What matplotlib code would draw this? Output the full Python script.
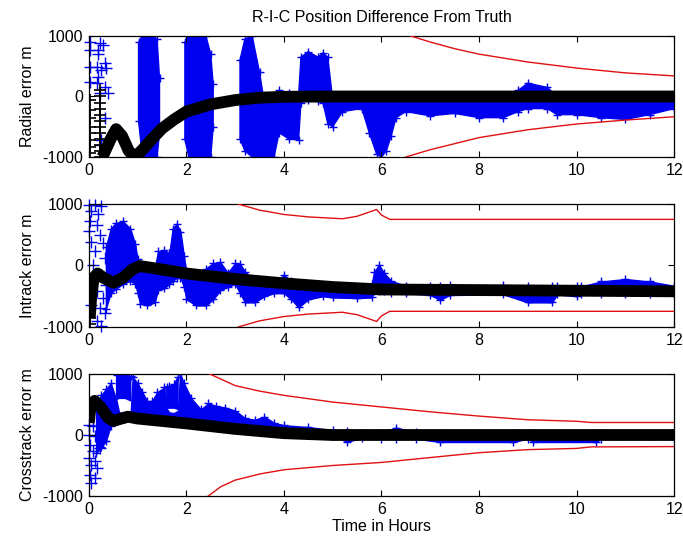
import numpy as np
import matplotlib
matplotlib.use("Agg")
import matplotlib.pyplot as plt

plt.rcParams['font.family'] = ['Liberation Sans', 'DejaVu Sans']
plt.rcParams['axes.unicode_minus'] = False

nan = np.nan

# ---------------- Radial ----------------
rad_blue_t = [1.00, 1.02, 1.10, 1.30, 1.40, 1.45, 1.47,
              1.97, 2.05, 2.40, 2.50, 2.55, 2.57,
              3.08, 3.10, 3.20, 3.35, 3.50, 3.60, 3.80, 3.90, 4.10, 4.30, 4.35, 4.50,
              4.70, 4.80, 4.90, 5.00, 5.20, 5.60, 5.75, 5.90, 6.00, 6.10, 6.20, 6.30,
              6.50, 7.00, 7.50, 8.00, 8.50, 8.80, 9.00, 9.40, 9.60, 10.0, 10.5, 11.0,
              11.5, 12.0]
rad_blue_lo = [nan, -400, -1000, -1000, -1000, -600, nan,
               -700, -1000, -1000, -1000, -500, nan,
               nan, -700, -900, -1000, -1000, -1000, -1000, -600, -700, -720, -100, -50,
               -80, -100, -450, -500, -250, -200, -600, -950, -1000, -900, -650, -350,
               -250, -320, -280, -350, -350, -250, -200, -200, -300, -300, -350, -380,
               -300, -200]
rad_blue_hi = [nan, 900, 1000, 1000, 950, 300, nan,
               900, 1000, 1000, 700, 200, nan,
               nan, 600, 950, 1000, 400, -100, -50, 100, 50, 0, 650, 740,
               650, 720, 650, -50, 0, 0, 0, 0, 0, 0, 0, 0,
               0, 0, 0, 0, 0, 100, 220, 150, 0, 0, 0, 0,
               0, 0]
rad_gap_lo = [nan] * len(rad_blue_t)
rad_gap_hi = [nan] * len(rad_blue_t)
rad_scatter_t = [0.03, 0.03, 0.03, 0.03, 0.23, 0.29, 0.19, 0.33, 0.26, 0.36, 0.19,
                 0.33, 0.40, 0.23, 0.33, 0.26, 0.23, 0.19, 0.16, 0.16]
rad_scatter_v = [905, 770, 490, 245, 880, 850, 770, 550, 440, 465, 330,
                 160, 50, 50, -360, -720, -800, 710, 490, 220]
rad_est_t = [0.28, 0.45, 0.56, 0.68, 0.82, 0.95, 1.10, 1.30, 1.50, 1.75, 2.0,
             2.5, 3.0, 3.5, 4.0, 5.0, 8.0, 12.0]
rad_est_v = [-1000, -700, -540, -650, -900, -1000, -880, -700, -530, -380, -250,
             -130, -60, -20, -5, 0, 0, 0]
rad_est_early_t = [0.03, 0.03, 0.03, 0.03, 0.03, 0.03, 0.03, 0.03,
                   0.23, 0.23, 0.23, 0.23, 0.23, 0.23, 0.23, 0.23, 0.23, 0.23, 0.23, 0.23]
rad_est_early_v = [-60, -220, -360, -500, -600, -720, -830, -935,
                   100, 0, -100, -200, -300, -400, -500, -600, -700, -800, -900, -1000]
rad_up_t = [6.60, 7.0, 7.5, 8.0, 9.0, 10.0, 11.0, 12.0]
rad_up_v = [1000, 900, 790, 700, 570, 470, 390, 340]
rad_dn_t = [6.50, 7.0, 8.0, 9.0, 10.0, 11.0, 12.0]
rad_dn_v = [-1000, -880, -680, -550, -455, -390, -335]

# ---------------- Intrack ----------------
int_blue_t = [0.35, 0.45, 0.55, 0.70, 0.85, 0.95, 1.00, 1.05, 1.20, 1.35, 1.42, 1.55,
              1.65, 1.72, 1.80, 1.88, 1.95, 2.00, 2.20, 2.40, 2.55, 2.70, 2.85, 3.00,
              3.10, 3.20, 3.40, 3.60, 3.80, 4.00, 4.15, 4.30, 4.50, 4.80, 5.00, 5.50,
              5.80, 5.85, 5.95, 6.05, 6.20, 6.50, 7.00, 7.20, 7.40, 8.50, 9.00, 9.50,
              9.60, 10.0, 10.1, 10.5, 11.0, 11.5, 12.0]
int_blue_lo = [-700, -450, -380, -300, -250, -300, -450, -620, -650, -600, -400, -370,
               -300, -250, -200, -200, -350, -550, -650, -650, -550, -400, -350, -300,
               -450, -600, -600, -500, -450, -450, -550, -680, -550, -500, -520, -530,
               -520, -420, -420, -420, -440, -450, -480, -560, -480, -470, -600, -600,
               -470, -500, -470, -470, -470, -470, -470]
int_blue_hi = [300, 600, 690, 720, 600, 350, 100, -20, -60, -50, 230, 250,
               200, 600, 680, 550, 150, -100, -150, -50, 40, 50, -120, 40,
               30, -100, -250, -300, -320, -150, -250, -300, -300, -330, -340, -360,
               -300, -100, 10, -120, -250, -330, -330, -330, -320, -320, -340, -340,
               -330, -340, -340, -260, -220, -260, -330]
int_gap_lo = [nan] * len(int_blue_t)
int_gap_hi = [nan] * len(int_blue_t)
int_scatter_t = [0.00, 0.12, 0.26, 0.05, 0.19, 0.02, 0.16, 0.00, 0.23, 0.05, 0.29, 0.12,
                 0.33, 0.09, 0.26, 0.36, 0.16, 0.29, 0.05, 0.23, 0.33, 0.16, 0.26]
int_scatter_v = [990, 990, 960, 880, 830, 720, 660, 555, 500, 390, 365, 230,
                 120, 15, -150, -310, -420, -530, -640, -690, -770, -910, -990]
int_est_t = [0.02, 0.05, 0.10, 0.18, 0.30, 0.50, 0.70, 0.90, 1.05, 1.30, 2.0, 3.0,
             4.0, 5.0, 6.0, 8.0, 10.0, 12.0]
int_est_v = [-850, -500, -200, -130, -200, -280, -200, -60, -10, -40, -130, -220,
             -290, -350, -390, -400, -410, -420]
int_est_early_t = [0.02, 0.02, 0.02, 0.02, 0.02]
int_est_early_v = [-550, -650, -750, -850, -950]
int_up_t = [3.06, 3.5, 4.0, 4.5, 5.2, 5.5, 5.9, 6.0, 6.17, 12.0]
int_up_v = [1000, 900, 830, 790, 760, 800, 910, 820, 750, 750]
int_dn_t = [3.06, 3.5, 4.0, 4.5, 5.2, 5.5, 5.9, 6.0, 6.17, 12.0]
int_dn_v = [-1000, -900, -830, -790, -760, -800, -910, -820, -745, -745]

# ---------------- Crosstrack ----------------
crs_blue_t = [0.15, 0.25, 0.35, 0.45, 0.57, 0.62, 0.75, 0.86, 0.90, 1.00, 1.10, 1.20,
              1.30, 1.40, 1.55, 1.60, 1.65, 1.75, 1.83, 1.87, 1.95, 2.10, 2.30, 2.45,
              2.60, 2.80, 3.00, 3.20, 3.40, 3.60, 3.80, 4.00, 4.50, 5.00, 5.30, 5.60,
              6.00, 6.30, 6.70, 7.20, 8.70, 9.00, 9.10, 10.4, 10.5, 12.0]
crs_blue_lo = [-300, -200, -100, 150, 240, 250, 270, 280, 280, 270, 260, 250,
               240, 230, 220, 215, 212, 205, 200, 200, 190, 180, 170, 160,
               150, 130, 110, 90, 70, 60, 40, 20, 0, -20, -110, -50,
               -60, -60, -60, -115, -115, -60, -115, -115, -60, -60]
crs_blue_hi = [450, 650, 750, 850, 980, 1000, 1000, 960, 950, 850, 700, 550,
               560, 700, 780, 790, 800, 830, 950, 1000, 850, 600, 420, 520,
               480, 450, 400, 280, 250, 300, 200, 160, 130, 80, 60, 40,
               40, 120, 50, 40, 40, 40, 40, 40, 40, 40]
crs_gap_lo = [nan, nan, nan, nan, 560, 370, 360, 380, nan, nan, nan, nan,
              nan, nan, nan, 430, 370, 360, 400] + [nan] * 27
crs_gap_hi = [nan, nan, nan, nan, 580, 600, 600, 560, nan, nan, nan, nan,
              nan, nan, nan, 440, 440, 440, 420] + [nan] * 27
crs_scatter_t = [0.00, 0.09, 0.00, 0.12, 0.02, 0.09, 0.00, 0.12, 0.05, 0.16, 0.02, 0.12,
                 0.05, 0.23, 0.29, 0.33]
crs_scatter_v = [170, 140, 5, -20, -160, -270, -380, -430, -490, -540, -650, -700,
                 -790, -210, -100, 115]
crs_est_t = [0.00, 0.03, 0.12, 0.25, 0.40, 0.50, 0.80, 1.0, 2.0, 3.0, 4.0, 5.0, 12.0]
crs_est_v = [200, 420, 560, 450, 280, 230, 300, 270, 190, 100, 30, 0, 0]
crs_up_t = [2.48, 3.0, 3.5, 4.0, 5.0, 6.0, 7.0, 8.0, 9.0, 10.0, 10.3, 12.0]
crs_up_v = [1000, 810, 720, 650, 540, 460, 380, 310, 250, 225, 205, 205]
crs_dn_t = [2.45, 2.7, 3.0, 3.5, 4.0, 5.0, 6.0, 7.0, 8.0, 9.0, 10.0, 10.3, 12.0]
crs_dn_v = [-1000, -850, -740, -640, -570, -500, -450, -370, -290, -240, -220, -195, -190]

BLUE = '#0000f0'
RED = '#e01010'

fig = plt.figure(figsize=(6.83, 5.46), dpi=100)
boxes = [[0.130, 0.7125, 0.857, 0.2216],
         [0.130, 0.4011, 0.857, 0.2253],
         [0.130, 0.0916, 0.857, 0.2234]]


def panel(box, bt, blo, bhi, glo, ghi, st, sv, et, ev, eet, eev, ut, uv, dt, dv, ylabel):
    ax = fig.add_axes(box)
    bt = np.array(bt, dtype=float)
    blo = np.array(blo, dtype=float)
    bhi = np.array(bhi, dtype=float)
    glo = np.array(glo, dtype=float)
    ghi = np.array(ghi, dtype=float)
    has_gap = ~np.isnan(ghi)
    # blue measurement residuals, split around white holes
    top_low = np.where(np.isnan(glo), bhi, glo)
    ax.fill_between(bt, blo, top_low, color=BLUE, lw=1.0, zorder=1)
    if has_gap.any():
        ax.fill_between(bt, np.where(has_gap, ghi, bhi), bhi, where=has_gap,
                        color=BLUE, lw=1.0, zorder=1)
    ax.plot(bt, blo, '+', color=BLUE, ms=6, mew=1, zorder=1)
    ax.plot(bt, bhi, '+', color=BLUE, ms=6, mew=1, zorder=1)
    ax.plot(st, sv, '+', color=BLUE, ms=9, mew=1, zorder=1, clip_on=False)
    # filter estimate
    ax.plot(et, ev, '-', color='black', lw=8.5, zorder=2, solid_capstyle='butt')
    if eet:
        ax.plot(eet, eev, '+', color='black', ms=9, mew=1.2, zorder=2)
    # covariance bounds
    ax.plot(ut, uv, '-', color=RED, lw=1.0, zorder=3)
    ax.plot(dt, dv, '-', color=RED, lw=1.0, zorder=3)
    ax.set_xlim(0, 12)
    ax.set_ylim(-1000, 1000)
    ax.set_xticks(range(0, 13, 2))
    ax.set_yticks([-1000, 0, 1000])
    ax.tick_params(direction='in', top=True, right=True, length=4, width=0.8,
                   labelsize=11.5, pad=4)
    for s in ax.spines.values():
        s.set_linewidth(0.9)
    ax.set_ylabel(ylabel, fontsize=11.5, labelpad=5)
    return ax


ax1 = panel(boxes[0], rad_blue_t, rad_blue_lo, rad_blue_hi, rad_gap_lo, rad_gap_hi,
            rad_scatter_t, rad_scatter_v, rad_est_t, rad_est_v,
            rad_est_early_t, rad_est_early_v,
            rad_up_t, rad_up_v, rad_dn_t, rad_dn_v, 'Radial error m')
ax1.set_title('R-I-C Position Difference From Truth', fontsize=11.5, pad=10)
ax2 = panel(boxes[1], int_blue_t, int_blue_lo, int_blue_hi, int_gap_lo, int_gap_hi,
            int_scatter_t, int_scatter_v, int_est_t, int_est_v,
            int_est_early_t, int_est_early_v,
            int_up_t, int_up_v, int_dn_t, int_dn_v, 'Intrack error m')
ax3 = panel(boxes[2], crs_blue_t, crs_blue_lo, crs_blue_hi, crs_gap_lo, crs_gap_hi,
            crs_scatter_t, crs_scatter_v, crs_est_t, crs_est_v, [], [],
            crs_up_t, crs_up_v, crs_dn_t, crs_dn_v, 'Crosstrack error m')
ax3.set_xlabel('Time in Hours', fontsize=11.5, labelpad=2)

fig.savefig('out.png', dpi=100)
